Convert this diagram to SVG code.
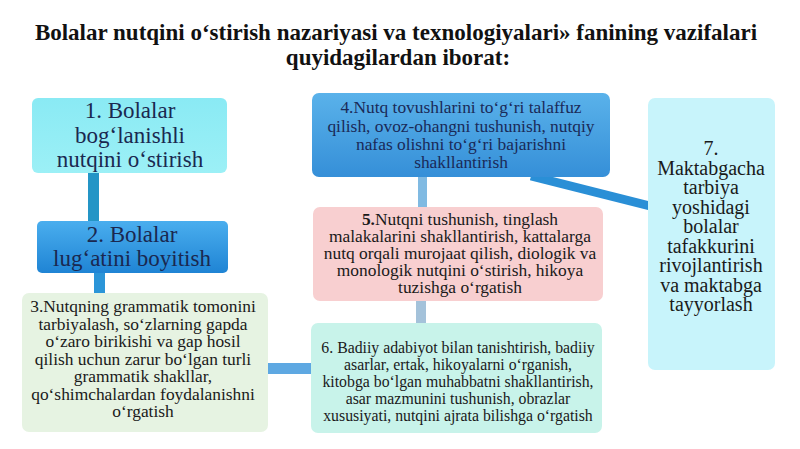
<svg xmlns="http://www.w3.org/2000/svg" width="800" height="449" viewBox="0 0 800 449">
<defs>
<linearGradient id="gBlue2" x1="0" y1="0" x2="0" y2="1"><stop offset="0" stop-color="#4aaeee"/><stop offset="1" stop-color="#1f84d4"/></linearGradient>
<linearGradient id="gBlue4" x1="0" y1="0" x2="0" y2="1"><stop offset="0" stop-color="#5ab2ea"/><stop offset="1" stop-color="#358fd8"/></linearGradient>
<linearGradient id="gCyan1" x1="0" y1="0" x2="0" y2="1"><stop offset="0" stop-color="#8aeaf4"/><stop offset="1" stop-color="#9cf0f6"/></linearGradient>
</defs>
<style>
text{font-family:"Liberation Serif","Times New Roman",serif;text-anchor:middle}
.title{font-size:23px;font-weight:bold;fill:#111}
.big{font-size:23px;fill:#1a2850}
.mid{font-size:17.4px;fill:#1a1a1a}
.mid4{font-size:17.4px;fill:#1a2a58}
.sm{font-size:15.8px;fill:#1a1a1a}
.n7{font-size:20px;fill:#1a1a1a}
</style>
<rect width="800" height="449" fill="#ffffff"/>
<text class="title" x="396" y="40">Bolalar nutqini o‘stirish nazariyasi va texnologiyalari» fanining vazifalari</text>
<text class="title" x="398" y="65">quyidagilardan iborat:</text>
<g id="connectors">
<rect x="88" y="170" width="11" height="54" fill="#2495c6"/>
<rect x="94" y="270" width="11" height="24" fill="#2b95d8"/>
<rect x="266" y="363" width="46" height="11" fill="#5ea8e2"/>
<rect x="418" y="175" width="9" height="34" fill="#80bae2"/>
<rect x="416" y="298" width="10" height="26" fill="#a4c2da"/>
<line x1="531" y1="176" x2="650" y2="206" stroke="#2a8fd6" stroke-width="9"/>
</g>
<g id="node1">
<rect x="32" y="98" width="195" height="75" rx="6" fill="url(#gCyan1)"/>
<text class="big" x="130" y="118">1. Bolalar</text>
<text class="big" x="130" y="143">bog‘lanishli</text>
<text class="big" x="130" y="167">nutqini o‘stirish</text>
</g>
<g id="node2">
<rect x="37" y="221" width="191" height="52" rx="5" fill="url(#gBlue2)"/>
<text class="big" x="132" y="242">2. Bolalar</text>
<text class="big" x="132" y="266">lug‘atini boyitish</text>
</g>
<g id="node3">
<rect x="22" y="293" width="246" height="139" rx="7" fill="#e6f3e2"/>
<text class="mid" x="143" y="312">3.Nutqning grammatik tomonini</text>
<text class="mid" x="143" y="329.5">tarbiyalash, so‘zlarning gapda</text>
<text class="mid" x="143" y="347">o‘zaro birikishi va gap hosil</text>
<text class="mid" x="143" y="364.5">qilish uchun zarur bo‘lgan turli</text>
<text class="mid" x="143" y="382">grammatik shakllar,</text>
<text class="mid" x="143" y="399.5">qo‘shimchalardan foydalanishni</text>
<text class="mid" x="143" y="417">o‘rgatish</text>
</g>
<g id="node4">
<rect x="312" y="93" width="298" height="84" rx="7" fill="url(#gBlue4)"/>
<text class="mid4" x="461" y="113">4.Nutq tovushlarini to‘g‘ri talaffuz</text>
<text class="mid4" x="461" y="131.5">qilish, ovoz-ohangni tushunish, nutqiy</text>
<text class="mid4" x="461" y="150">nafas olishni to‘g‘ri bajarishni</text>
<text class="mid4" x="461" y="168">shakllantirish</text>
</g>
<g id="node5">
<rect x="313" y="207" width="290" height="94" rx="7" fill="#f8cfd0"/>
<text class="mid" x="460" y="225"><tspan font-weight="bold">5.</tspan>Nutqni tushunish, tinglash</text>
<text class="mid" x="460" y="242">malakalarini shakllantirish, kattalarga</text>
<text class="mid" x="460" y="259">nutq orqali murojaat qilish, diologik va</text>
<text class="mid" x="460" y="276">monologik nutqini o‘stirish, hikoya</text>
<text class="mid" x="460" y="293">tuzishga o‘rgatish</text>
</g>
<g id="node6">
<rect x="311" y="323" width="291" height="110" rx="7" fill="#c8f3ea"/>
<text class="sm" x="458" y="353">6. Badiiy adabiyot bilan tanishtirish, badiiy</text>
<text class="sm" x="458" y="370">asarlar, ertak, hikoyalarni o‘rganish,</text>
<text class="sm" x="458" y="387">kitobga bo‘lgan muhabbatni shakllantirish,</text>
<text class="sm" x="458" y="404">asar mazmunini tushunish, obrazlar</text>
<text class="sm" x="458" y="421">xususiyati, nutqini ajrata bilishga o‘rgatish</text>
</g>
<g id="node7">
<rect x="648" y="98" width="127" height="272" rx="7" fill="#c8f4fb"/>
<text class="n7" x="711" y="155">7.</text>
<text class="n7" x="711" y="174.5">Maktabgacha</text>
<text class="n7" x="711" y="194">tarbiya</text>
<text class="n7" x="711" y="213.5">yoshidagi</text>
<text class="n7" x="711" y="233">bolalar</text>
<text class="n7" x="711" y="252.5">tafakkurini</text>
<text class="n7" x="711" y="272">rivojlantirish</text>
<text class="n7" x="711" y="291.5">va maktabga</text>
<text class="n7" x="711" y="311">tayyorlash</text>
</g>
</svg>
